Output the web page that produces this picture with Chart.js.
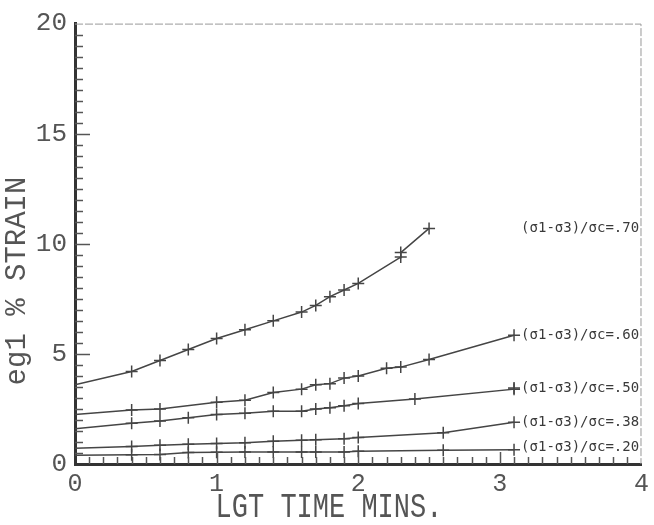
<!DOCTYPE html>
<html>
<head>
<meta charset="utf-8">
<script src="https://cdn.jsdelivr.net/npm/chart.js@4"></script>
<style>
  html, body { margin: 0; padding: 0; background: #fff; }
  #wrap { width: 654px; height: 525px; }
</style>
</head>
<body>
<div id="wrap"><canvas id="chart" width="654" height="525"></canvas></div>
<script>
// log time (mins) positions and % strain for each stress ratio
var x70 = [0, 0.4, 0.6, 0.8, 1.0, 1.2, 1.4, 1.6, 1.7, 1.8, 1.9, 2.0, 2.3, 2.3, 2.5];
var y70 = [3.6, 4.2, 4.7, 5.2, 5.7, 6.1, 6.5, 6.9, 7.2, 7.6, 7.9, 8.2, 9.4, 9.6, 10.7];

var x60 = [0, 0.4, 0.6, 1.0, 1.2, 1.4, 1.6, 1.7, 1.8, 1.9, 2.0, 2.2, 2.3, 2.5, 3.1];
var y60 = [2.25, 2.45, 2.5, 2.8, 2.9, 3.25, 3.4, 3.6, 3.65, 3.9, 4.0, 4.35, 4.4, 4.75, 5.85];

var x50 = [0, 0.4, 0.6, 0.8, 1.0, 1.2, 1.4, 1.6, 1.7, 1.8, 1.9, 2.0, 2.4, 3.1, 3.1];
var y50 = [1.6, 1.85, 1.95, 2.1, 2.25, 2.3, 2.4, 2.4, 2.5, 2.55, 2.65, 2.75, 2.95, 3.4, 3.45];

var x38 = [0, 0.4, 0.6, 0.8, 1.0, 1.2, 1.4, 1.6, 1.7, 1.9, 2.0, 2.6, 3.1];
var y38 = [0.72, 0.8, 0.85, 0.9, 0.93, 0.96, 1.03, 1.08, 1.1, 1.15, 1.2, 1.42, 1.9];

var x20 = [0, 0.4, 0.6, 0.8, 1.0, 1.2, 1.4, 1.6, 1.7, 1.9, 2.0, 2.6, 3.1];
var y20 = [0.4, 0.42, 0.43, 0.52, 0.53, 0.54, 0.54, 0.54, 0.54, 0.55, 0.58, 0.62, 0.65];

var seriesNames = ['(σ1-σ3)/σc=.70', '(σ1-σ3)/σc=.60', '(σ1-σ3)/σc=.50', '(σ1-σ3)/σc=.38', '(σ1-σ3)/σc=.20'];
var labelX = 3.15;
var labelY = [10.7, 5.85, 3.45, 1.9, 0.75];

var xTicks = [0, 1, 2, 3, 4];
var yTicks = [0, 5, 10, 15, 20];

var ink = '#454545';

function pts(xs, ys) {
  return xs.map(function(x, i) { return { x: x, y: ys[i] }; });
}

function makeSet(name, xs, ys) {
  return {
    label: name,
    data: pts(xs, ys),
    showLine: true,
    borderColor: ink,
    borderWidth: 1.5,
    pointStyle: 'cross',
    pointRadius: function(c) { return c.raw && c.raw.x === 0 ? 0 : 6; },
    pointBorderColor: ink,
    pointBorderWidth: 1.5,
    tension: 0
  };
}

var decor = {
  id: 'decor',
  afterDraw: function(chart) {
    var ctx = chart.ctx;
    var a = chart.chartArea;
    var xs = chart.scales.x, ys = chart.scales.y;
    ctx.save();

    // thin frame top and right
    ctx.strokeStyle = '#999';
    ctx.lineWidth = 1;
    ctx.setLineDash([8, 2]);
    ctx.beginPath();
    ctx.moveTo(a.left, a.top + 0.5);
    ctx.lineTo(a.right - 0.5, a.top + 0.5);
    ctx.lineTo(a.right - 0.5, a.bottom);
    ctx.stroke();
    ctx.setLineDash([]);

    // inward ticks
    ctx.strokeStyle = '#555';
    ctx.lineWidth = 1.5;
    var i, v, p, len;
    for (i = 1; i < 40; i++) {
      v = i * 0.5;
      p = Math.round(ys.getPixelForValue(v)) + 0.5;
      len = (i % 10 === 0) ? 15 : 8;
      ctx.beginPath();
      ctx.moveTo(a.left, p);
      ctx.lineTo(a.left + len, p);
      ctx.stroke();
    }
    for (i = 1; i < 40; i++) {
      v = i * 0.1;
      p = Math.round(xs.getPixelForValue(v)) + 0.5;
      len = (i % 10 === 0) ? 12 : 7;
      ctx.beginPath();
      ctx.moveTo(p, a.bottom);
      ctx.lineTo(p, a.bottom - len);
      ctx.stroke();
    }

    // series labels
    ctx.fillStyle = '#3a3a3a';
    ctx.font = '14px "DejaVu Sans Mono"';
    ctx.textBaseline = 'middle';
    ctx.textAlign = 'left';
    for (i = 0; i < seriesNames.length; i++) {
      ctx.fillText(seriesNames[i], xs.getPixelForValue(labelX), ys.getPixelForValue(labelY[i]), 120);
    }

    // axis titles
    ctx.fillStyle = '#555';
    ctx.textAlign = 'center';
    ctx.textBaseline = 'middle';
    ctx.save();
    ctx.font = '27px "Liberation Mono"';
    ctx.translate(329, 508);
    ctx.scale(1, 1.3);
    ctx.fillText('LGT TIME MINS.', 0, 0);
    ctx.restore();
    ctx.font = '29px "Liberation Mono"';
    ctx.translate(17, 281);
    ctx.rotate(-Math.PI / 2);
    ctx.fillText('eg1 % STRAIN', 0, 0);
    ctx.restore();
  }
};

var ctx = document.getElementById('chart').getContext('2d');
var chart = new Chart(ctx, {
  type: 'scatter',
  data: {
    datasets: [
      makeSet(seriesNames[0], x70, y70),
      makeSet(seriesNames[1], x60, y60),
      makeSet(seriesNames[2], x50, y50),
      makeSet(seriesNames[3], x38, y38),
      makeSet(seriesNames[4], x20, y20)
    ]
  },
  options: {
    responsive: false,
    animation: false,
    layout: { padding: { left: 0, right: 7, top: 20, bottom: 0 } },
    plugins: { legend: { display: false }, tooltip: { enabled: false } },
    scales: {
      x: {
        type: 'linear',
        min: 0, max: 4,
        afterBuildTicks: function(s) { s.ticks = xTicks.map(function(v) { return { value: v }; }); },
        afterFit: function(s) { s.height = 61; },
        grid: { display: true, drawOnChartArea: false, drawTicks: false },
        border: { display: true, color: '#333', width: 3 },
        ticks: { color: '#555', padding: 5, font: { family: 'Liberation Mono', size: 25 } }
      },
      y: {
        type: 'linear',
        min: 0, max: 20,
        afterBuildTicks: function(s) { s.ticks = yTicks.map(function(v) { return { value: v }; }); },
        afterFit: function(s) { s.width = 75; },
        grid: { display: true, drawOnChartArea: false, drawTicks: false },
        border: { display: true, color: '#333', width: 3 },
        ticks: { color: '#555', padding: 8, font: { family: 'Liberation Mono', size: 26 } }
      }
    }
  },
  plugins: [decor]
});
</script>
</body>
</html>
